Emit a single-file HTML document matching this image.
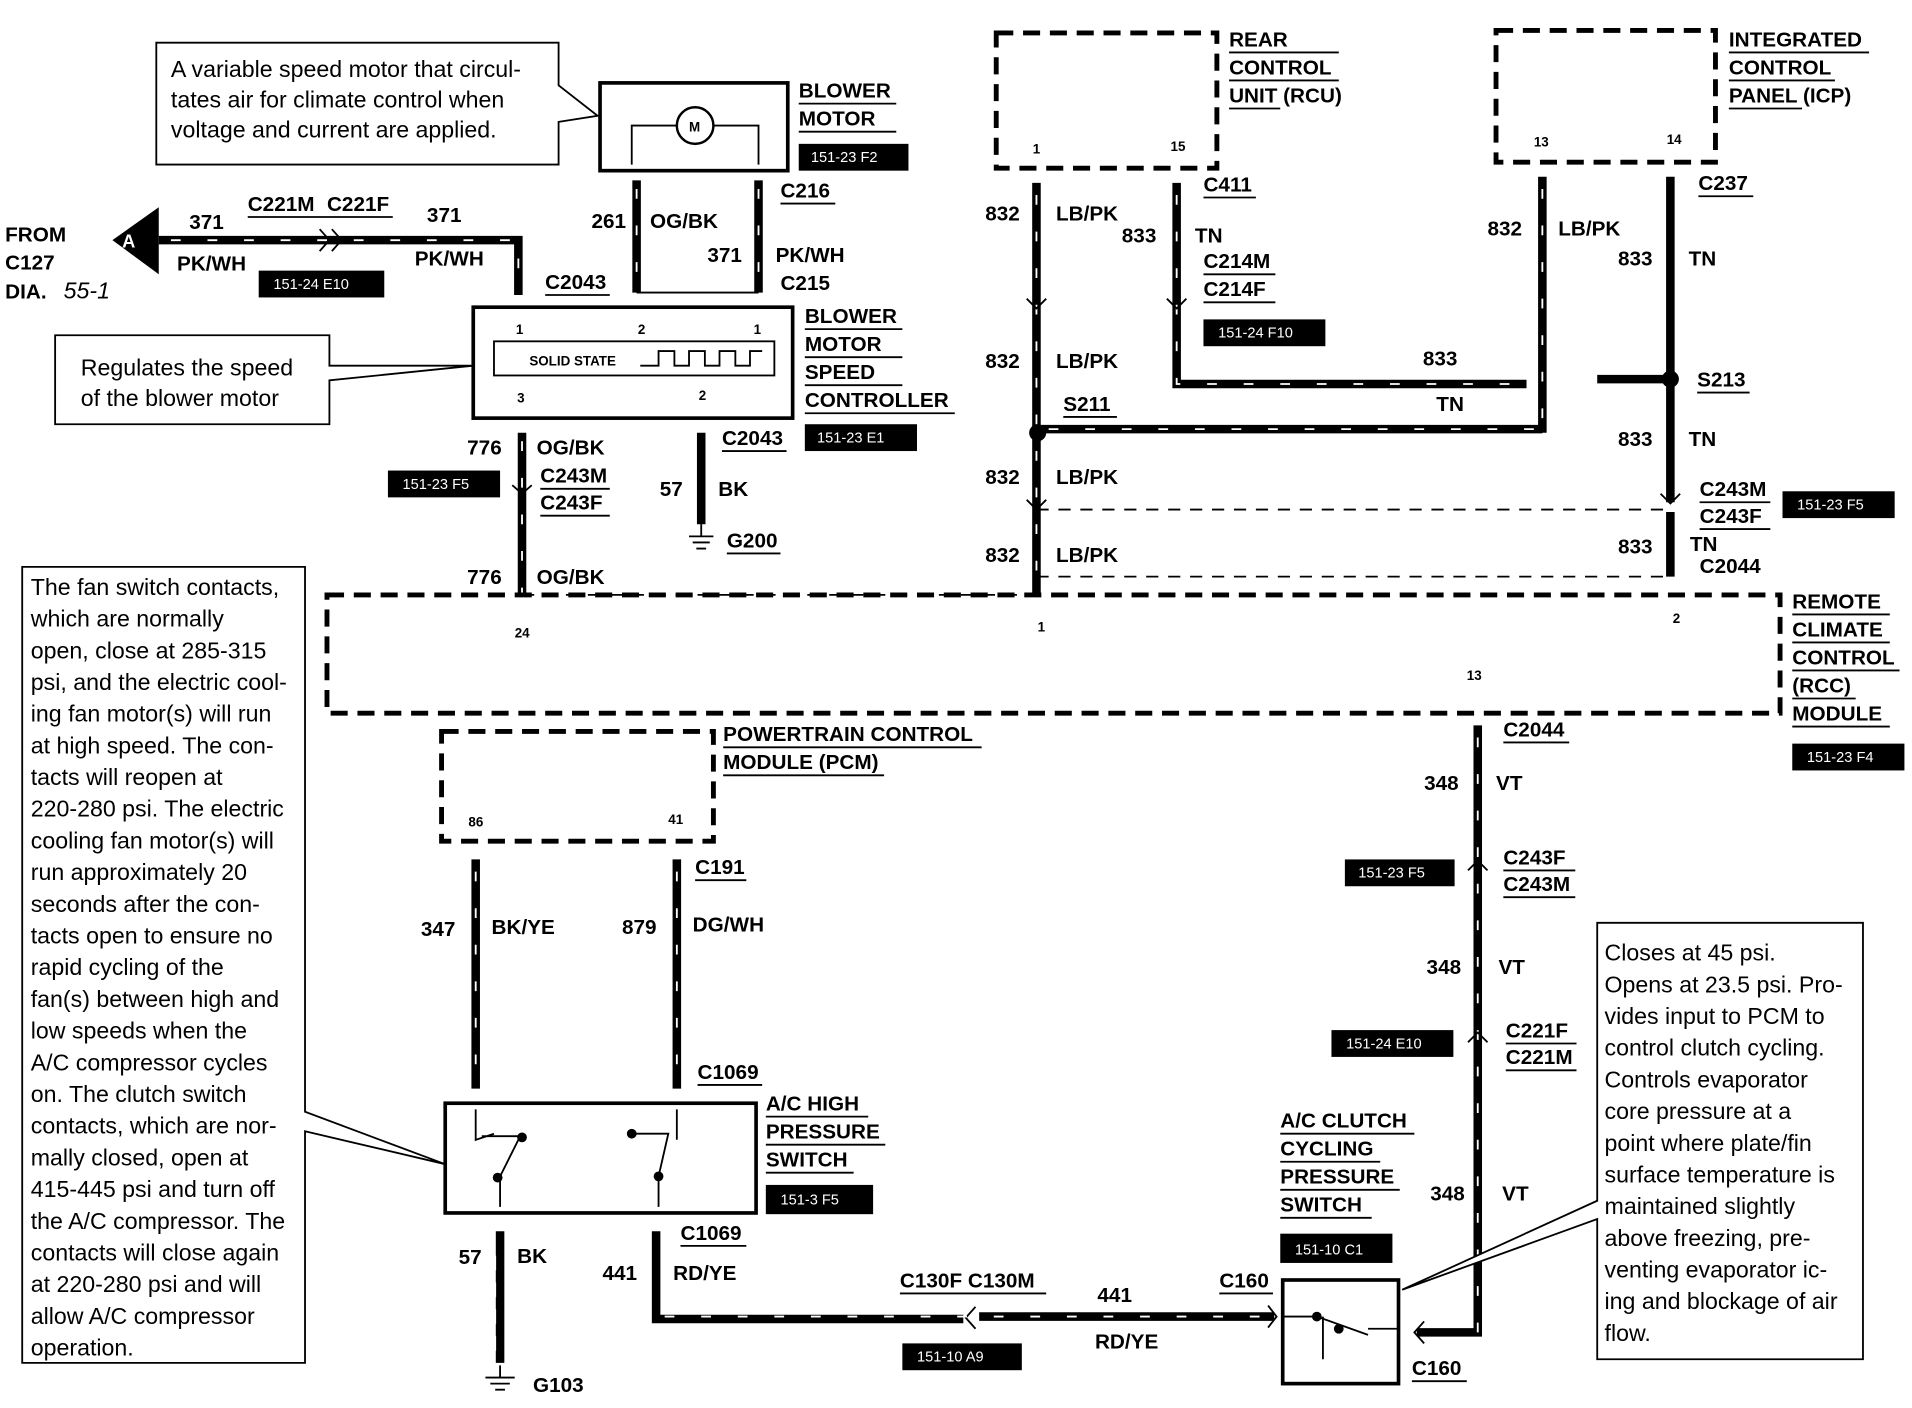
<!DOCTYPE html>
<html><head><meta charset="utf-8"><style>
html,body{margin:0;padding:0;background:#fff}
svg{display:block}
.l{font-family:"Liberation Sans",sans-serif;font-weight:bold;font-size:17px;fill:#000}
.n{font-family:"Liberation Sans",sans-serif;font-size:19px;fill:#000}
.s{font-family:"Liberation Sans",sans-serif;font-weight:bold;font-size:11px;fill:#000}
.b{font-family:"Liberation Sans",sans-serif;font-size:12px;fill:#fff}
.w{stroke:#000;stroke-width:7;fill:none}
.wd{stroke:#fff;stroke-width:1.5;stroke-dasharray:8 22;fill:none}
.t{stroke:#000;stroke-width:1.5;fill:none}
.dsh{stroke:#000;stroke-width:4;fill:none;stroke-dasharray:14 8}
.td{stroke:#000;stroke-width:1.5;fill:none;stroke-dasharray:10 8}
</style></head><body>
<svg width="1912" height="1408" viewBox="0 0 1568 1155" xmlns="http://www.w3.org/2000/svg">
<rect width="1568" height="1155" fill="#fff"/>
<!-- top callout -->
<path d="M128,35 H458 V70 L490,95 L458,100 V135 H128 Z" fill="#fff" stroke="#000" stroke-width="1.5"/>
<text class="n" x="140" y="63">A variable speed motor that circul-</text>
<text class="n" x="140" y="88">tates air for climate control when</text>
<text class="n" x="140" y="113">voltage and current are applied.</text>
<!-- blower motor -->
<rect x="492" y="68" width="154" height="72" fill="none" stroke="#000" stroke-width="3"/>
<circle cx="570" cy="103" r="15" fill="none" stroke="#000" stroke-width="2"/>
<text class="s" x="565" y="108">M</text>
<path class="t" d="M555,103 H518 V135 M585,103 H622 V135"/>
<text class="l" x="655" y="80">BLOWER</text><line class="t" x1="655" y1="85" x2="735" y2="85"/>
<text class="l" x="655" y="103">MOTOR</text><line class="t" x1="655" y1="108" x2="735" y2="108"/>
<rect x="655" y="118" width="90" height="22" fill="#000"/><text class="b" x="665" y="133">151-23 F2</text>
<!-- A connector -->
<path d="M92,197 L130,170 V225 Z" fill="#000"/><text x="100" y="203" font-family="Liberation Sans" font-weight="bold" font-size="15" fill="#fff">A</text>
<text class="l" x="4" y="198">FROM</text><text class="l" x="4" y="221">C127</text><text class="l" x="4" y="245">DIA.</text>
<text class="n" x="52" y="245" font-style="italic" font-size="15">55-1</text>
<path class="w" d="M130,197 H425 V242"/><path class="wd" d="M140,197 H425 V242"/>
<path class="t" d="M262,188 L270,197 L262,206 M272,188 L280,197 L272,206" stroke-width="3"/>
<text class="l" x="155" y="188">371</text><text class="l" x="145" y="222">PK/WH</text>
<text class="l" x="203" y="173">C221M</text><text class="l" x="268" y="173">C221F</text>
<line class="t" x1="203" y1="178" x2="322" y2="178"/>
<text class="l" x="350" y="182">371</text><text class="l" x="340" y="218">PK/WH</text>
<rect x="212" y="222" width="103" height="22" fill="#000"/><text class="b" x="224" y="237">151-24 E10</text>
<text class="l" x="447" y="237">C2043</text><line class="t" x1="447" y1="242" x2="500" y2="242"/>
<!-- 261 / 371 wires -->
<path class="w" d="M522,148 V240 M622,148 V240"/><path class="wd" d="M522,155 V240 M622,155 V240"/>
<path class="t" d="M522,240 H622"/>
<text class="l" x="485" y="187">261</text><text class="l" x="533" y="187">OG/BK</text>
<text class="l" x="580" y="215">371</text><text class="l" x="636" y="215">PK/WH</text>
<text class="l" x="640" y="162">C216</text><line class="t" x1="640" y1="167" x2="685" y2="167"/>
<text class="l" x="640" y="238">C215</text>
<!-- speed controller -->
<rect x="388" y="252" width="262" height="91" fill="none" stroke="#000" stroke-width="3"/>
<rect x="405" y="280" width="230" height="28" fill="none" stroke="#000" stroke-width="1.5"/>
<text class="s" x="434" y="300">SOLID STATE</text>
<path class="t" d="M525,300 H540 V288 H553 V300 H565 V288 H578 V300 H590 V288 H603 V300 H615 V288 H625" stroke-width="2"/>
<text class="s" x="423" y="274">1</text><text class="s" x="523" y="274">2</text><text class="s" x="618" y="274">1</text>
<text class="s" x="424" y="330">3</text><text class="s" x="573" y="328">2</text>
<text class="l" x="660" y="265">BLOWER</text><line class="t" x1="660" y1="270" x2="740" y2="270"/>
<text class="l" x="660" y="288">MOTOR</text><line class="t" x1="660" y1="293" x2="740" y2="293"/>
<text class="l" x="660" y="311">SPEED</text><line class="t" x1="660" y1="316" x2="740" y2="316"/>
<text class="l" x="660" y="334">CONTROLLER</text><line class="t" x1="660" y1="339" x2="783" y2="339"/>
<rect x="660" y="348" width="92" height="22" fill="#000"/><text class="b" x="670" y="363">151-23 E1</text>
<path d="M45,275 H270 V300 L388,300 L270,312 V348 H45 Z" fill="#fff" stroke="#000" stroke-width="1.5"/>
<text class="n" x="66" y="308">Regulates the speed</text><text class="n" x="66" y="333">of the blower motor</text>
<!-- 776 / 57 -->
<path class="w" d="M428,355 V488 M575,355 V430"/><path class="wd" d="M428,362 V488"/>
<path class="t" d="M420,398 L428,405 L436,398" stroke-width="3"/>
<text class="l" x="383" y="373">776</text><text class="l" x="440" y="373">OG/BK</text>
<text class="l" x="443" y="396">C243M</text><text class="l" x="443" y="418">C243F</text>
<line class="t" x1="443" y1="401" x2="500" y2="401"/><line class="t" x1="443" y1="423" x2="500" y2="423"/>
<rect x="318" y="386" width="92" height="22" fill="#000"/><text class="b" x="330" y="401">151-23 F5</text>
<text class="l" x="592" y="365">C2043</text><line class="t" x1="592" y1="370" x2="645" y2="370"/>
<text class="l" x="541" y="407">57</text><text class="l" x="589" y="407">BK</text>
<path class="t" d="M575,430 V440 M565,440 H585 M568,445 H582 M571,450 H579" stroke-width="2"/>
<text class="l" x="596" y="449">G200</text><line class="t" x1="596" y1="454" x2="640" y2="454"/>
<text class="l" x="383" y="479">776</text><text class="l" x="440" y="479">OG/BK</text>
<!-- RCU -->
<rect x="817" y="27" width="181" height="111" class="dsh"/>
<text class="s" x="847" y="126">1</text><text class="s" x="960" y="124">15</text>
<text class="l" x="1008" y="38">REAR</text><line class="t" x1="1008" y1="43" x2="1098" y2="43"/>
<text class="l" x="1008" y="61">CONTROL</text><line class="t" x1="1008" y1="66" x2="1098" y2="66"/>
<text class="l" x="1008" y="84">UNIT (RCU)</text><line class="t" x1="1008" y1="89" x2="1050" y2="89"/>
<path class="w" d="M850,150 V488 M965,150 V315 H1252"/><path class="wd" d="M850,160 V488 M965,160 V315 H1252"/>
<path class="t" d="M842,245 L850,253 L858,245 M957,245 L965,253 L973,245" stroke-width="3"/>
<text class="l" x="987" y="157">C411</text><line class="t" x1="987" y1="162" x2="1030" y2="162"/>
<text class="l" x="808" y="181">832</text><text class="l" x="866" y="181">LB/PK</text>
<text class="l" x="920" y="199">833</text><text class="l" x="980" y="199">TN</text>
<text class="l" x="987" y="220">C214M</text><text class="l" x="987" y="243">C214F</text>
<line class="t" x1="987" y1="225" x2="1046" y2="225"/><line class="t" x1="987" y1="248" x2="1046" y2="248"/>
<rect x="987" y="262" width="100" height="22" fill="#000"/><text class="b" x="999" y="277">151-24 F10</text>
<text class="l" x="808" y="302">832</text><text class="l" x="866" y="302">LB/PK</text>
<text class="l" x="1167" y="300">833</text><text class="l" x="1178" y="337">TN</text>
<text class="l" x="872" y="337">S211</text><line class="t" x1="872" y1="342" x2="916" y2="342"/>
<circle cx="851" cy="355" r="7" fill="#000"/>
<path class="w" d="M850,352 H1265"/><path class="wd" d="M860,352 H1265"/>
<text class="l" x="808" y="397">832</text><text class="l" x="866" y="397">LB/PK</text>
<path class="t" d="M842,410 L850,418 L858,410" stroke-width="3"/>
<path class="td" d="M850,418 H1370 M850,473 H1370 M428,488 H850"/>
<text class="l" x="808" y="461">832</text><text class="l" x="866" y="461">LB/PK</text>
<!-- ICP -->
<rect x="1227" y="25" width="180" height="108" class="dsh"/>
<text class="s" x="1258" y="120">13</text><text class="s" x="1367" y="118">14</text>
<text class="l" x="1418" y="38">INTEGRATED</text><line class="t" x1="1418" y1="43" x2="1533" y2="43"/>
<text class="l" x="1418" y="61">CONTROL</text><line class="t" x1="1418" y1="66" x2="1505" y2="66"/>
<text class="l" x="1418" y="84">PANEL (ICP)</text><line class="t" x1="1418" y1="89" x2="1478" y2="89"/>
<path class="w" d="M1265,145 V355 M1370,145 V412 M1310,311 H1370"/><path class="wd" d="M1265,155 V352"/>
<circle cx="1370" cy="311" r="7" fill="#000"/>
<path class="t" d="M1362,405 L1370,413 L1378,405" stroke-width="3"/>
<text class="l" x="1393" y="156">C237</text><line class="t" x1="1393" y1="161" x2="1438" y2="161"/>
<text class="l" x="1220" y="193">832</text><text class="l" x="1278" y="193">LB/PK</text>
<text class="l" x="1327" y="218">833</text><text class="l" x="1385" y="218">TN</text>
<text class="l" x="1392" y="317">S213</text><line class="t" x1="1392" y1="322" x2="1435" y2="322"/>
<text class="l" x="1327" y="366">833</text><text class="l" x="1385" y="366">TN</text>
<text class="l" x="1394" y="407">C243M</text><text class="l" x="1394" y="429">C243F</text>
<line class="t" x1="1394" y1="412" x2="1452" y2="412"/><line class="t" x1="1394" y1="434" x2="1452" y2="434"/>
<rect x="1462" y="403" width="92" height="22" fill="#000"/><text class="b" x="1474" y="418">151-23 F5</text>
<text class="l" x="1327" y="454">833</text><text class="l" x="1386" y="452">TN</text>
<text class="l" x="1394" y="470">C2044</text>
<path class="w" d="M1370,420 V473"/>
<!-- RCC -->
<rect x="268" y="488" width="1192" height="97" class="dsh"/>
<text class="s" x="422" y="523">24</text><text class="s" x="851" y="518">1</text><text class="s" x="1372" y="511">2</text><text class="s" x="1203" y="558">13</text>
<text class="l" x="1470" y="499">REMOTE</text><line class="t" x1="1470" y1="504" x2="1550" y2="504"/>
<text class="l" x="1470" y="522">CLIMATE</text><line class="t" x1="1470" y1="527" x2="1550" y2="527"/>
<text class="l" x="1470" y="545">CONTROL</text><line class="t" x1="1470" y1="550" x2="1558" y2="550"/>
<text class="l" x="1470" y="568">(RCC)</text><line class="t" x1="1470" y1="573" x2="1522" y2="573"/>
<text class="l" x="1470" y="591">MODULE</text><line class="t" x1="1470" y1="596" x2="1550" y2="596"/>
<rect x="1470" y="610" width="92" height="22" fill="#000"/><text class="b" x="1482" y="625">151-23 F4</text>
<!-- PCM -->
<rect x="362" y="600" width="223" height="90" class="dsh"/>
<text class="s" x="384" y="678">86</text><text class="s" x="548" y="676">41</text>
<text class="l" x="593" y="608">POWERTRAIN CONTROL</text><line class="t" x1="593" y1="613" x2="805" y2="613"/>
<text class="l" x="593" y="631">MODULE (PCM)</text><line class="t" x1="593" y1="636" x2="725" y2="636"/>
<path class="w" d="M390,705 V893 M555,705 V893"/><path class="wd" d="M390,715 V893 M555,715 V893"/>
<text class="l" x="570" y="717">C191</text><line class="t" x1="570" y1="722" x2="612" y2="722"/>
<text class="l" x="345" y="768">347</text><text class="l" x="403" y="766">BK/YE</text>
<text class="l" x="510" y="766">879</text><text class="l" x="568" y="764">DG/WH</text>
<text class="l" x="572" y="885">C1069</text><line class="t" x1="572" y1="890" x2="625" y2="890"/>
<!-- AC high pressure -->
<rect x="365" y="905" width="255" height="90" fill="none" stroke="#000" stroke-width="3"/>
<path class="t" d="M390,910 V935 L405,930 M425,935 L410,965 M410,965 V990 M395,932 L425,932 M555,910 V935 M520,930 H548 L540,965 V990" stroke-width="2"/>
<circle cx="428" cy="933" r="4" fill="#000"/><circle cx="408" cy="966" r="4" fill="#000"/>
<circle cx="518" cy="930" r="4" fill="#000"/><circle cx="540" cy="965" r="4" fill="#000"/>
<text class="l" x="628" y="911">A/C HIGH</text><line class="t" x1="628" y1="916" x2="712" y2="916"/>
<text class="l" x="628" y="934">PRESSURE</text><line class="t" x1="628" y1="939" x2="726" y2="939"/>
<text class="l" x="628" y="957">SWITCH</text><line class="t" x1="628" y1="962" x2="700" y2="962"/>
<rect x="628" y="972" width="88" height="24" fill="#000"/><text class="b" x="640" y="988">151-3 F5</text>
<!-- 57 / 441 -->
<path class="w" d="M410,1010 V1118 M538,1010 V1082 H790"/>
<path d="M406,1030 V1110" stroke="#fff" stroke-width="1.5" stroke-dasharray="12 10"/>
<path class="t" d="M410,1120 V1130 M398,1130 H422 M402,1135 H418 M406,1140 H414" stroke-width="2"/>
<text class="l" x="376" y="1037">57</text><text class="l" x="424" y="1036">BK</text>
<text class="l" x="437" y="1142">G103</text>
<text class="l" x="558" y="1017">C1069</text><line class="t" x1="558" y1="1022" x2="612" y2="1022"/>
<text class="l" x="494" y="1050">441</text><text class="l" x="552" y="1050">RD/YE</text>
<path class="t" d="M800,1072 L792,1081 L800,1090" stroke-width="3"/>
<path class="w" d="M803,1080 H1045"/><path class="wd" d="M545,1080 H1045"/>
<path class="t" d="M1040,1071 L1047,1080 L1040,1089" stroke-width="3"/>
<text class="l" x="738" y="1056">C130F C130M</text><line class="t" x1="738" y1="1061" x2="858" y2="1061"/>
<rect x="740" y="1102" width="98" height="22" fill="#000"/><text class="b" x="752" y="1117">151-10 A9</text>
<text class="l" x="900" y="1068">441</text><text class="l" x="898" y="1106">RD/YE</text>
<text class="l" x="1000" y="1056">C160</text><line class="t" x1="1000" y1="1061" x2="1044" y2="1061"/>
<!-- clutch switch -->
<rect x="1052" y="1050" width="95" height="85" fill="none" stroke="#000" stroke-width="3"/>
<path class="t" d="M1052,1080 H1080 L1122,1095 M1122,1090 H1147 M1085,1080 V1115" stroke-width="2"/>
<circle cx="1080" cy="1080" r="4" fill="#000"/><circle cx="1098" cy="1090" r="4" fill="#000"/>
<text class="l" x="1050" y="925">A/C CLUTCH</text><line class="t" x1="1050" y1="930" x2="1160" y2="930"/>
<text class="l" x="1050" y="948">CYCLING</text><line class="t" x1="1050" y1="953" x2="1132" y2="953"/>
<text class="l" x="1050" y="971">PRESSURE</text><line class="t" x1="1050" y1="976" x2="1148" y2="976"/>
<text class="l" x="1050" y="994">SWITCH</text><line class="t" x1="1050" y1="999" x2="1125" y2="999"/>
<rect x="1050" y="1012" width="92" height="24" fill="#000"/><text class="b" x="1062" y="1029">151-10 C1</text>
<!-- 348 -->
<path class="w" d="M1212,595 V1093 H1162"/><path class="wd" d="M1212,605 V1093"/>
<path class="t" d="M1168,1084 L1160,1093 L1168,1102" stroke-width="3"/>
<path class="t" d="M1204,714 L1212,706 L1220,714 M1204,855 L1212,847 L1220,855" stroke-width="3"/>
<text class="l" x="1233" y="604">C2044</text><line class="t" x1="1233" y1="609" x2="1287" y2="609"/>
<text class="l" x="1168" y="648">348</text><text class="l" x="1227" y="648">VT</text>
<text class="l" x="1233" y="709">C243F</text><text class="l" x="1233" y="731">C243M</text>
<line class="t" x1="1233" y1="714" x2="1292" y2="714"/><line class="t" x1="1233" y1="736" x2="1292" y2="736"/>
<rect x="1103" y="705" width="90" height="22" fill="#000"/><text class="b" x="1114" y="720">151-23 F5</text>
<text class="l" x="1170" y="799">348</text><text class="l" x="1229" y="799">VT</text>
<text class="l" x="1235" y="851">C221F</text><text class="l" x="1235" y="873">C221M</text>
<line class="t" x1="1235" y1="856" x2="1293" y2="856"/><line class="t" x1="1235" y1="878" x2="1293" y2="878"/>
<rect x="1092" y="845" width="100" height="22" fill="#000"/><text class="b" x="1104" y="860">151-24 E10</text>
<text class="l" x="1173" y="985">348</text><text class="l" x="1232" y="985">VT</text>
<text class="l" x="1158" y="1128">C160</text><line class="t" x1="1158" y1="1133" x2="1203" y2="1133"/>
<!-- left callout -->
<path d="M18,465 H250 V912 L365,955 L250,928 V1118 H18 Z" fill="#fff" stroke="#000" stroke-width="1.5"/>
<g class="n">
<text x="25" y="488">The fan switch contacts,</text>
<text x="25" y="514">which are normally</text>
<text x="25" y="540">open, close at 285-315</text>
<text x="25" y="566">psi, and the electric cool-</text>
<text x="25" y="592">ing fan motor(s) will run</text>
<text x="25" y="618">at high speed. The con-</text>
<text x="25" y="644">tacts will reopen at</text>
<text x="25" y="670">220-280 psi. The electric</text>
<text x="25" y="696">cooling fan motor(s) will</text>
<text x="25" y="722">run approximately 20</text>
<text x="25" y="748">seconds after the con-</text>
<text x="25" y="774">tacts open to ensure no</text>
<text x="25" y="800">rapid cycling of the</text>
<text x="25" y="826">fan(s) between high and</text>
<text x="25" y="852">low speeds when the</text>
<text x="25" y="878">A/C compressor cycles</text>
<text x="25" y="904">on. The clutch switch</text>
<text x="25" y="930">contacts, which are nor-</text>
<text x="25" y="956">mally closed, open at</text>
<text x="25" y="982">415-445 psi and turn off</text>
<text x="25" y="1008">the A/C compressor. The</text>
<text x="25" y="1034">contacts will close again</text>
<text x="25" y="1060">at 220-280 psi and will</text>
<text x="25" y="1086">allow A/C compressor</text>
<text x="25" y="1112">operation.</text>
</g>
<!-- right callout -->
<path d="M1310,757 H1528 V1115 H1310 V1000 L1150,1058 L1310,985 Z" fill="#fff" stroke="#000" stroke-width="1.5"/>
<g class="n">
<text x="1316" y="788">Closes at 45 psi.</text>
<text x="1316" y="814">Opens at 23.5 psi. Pro-</text>
<text x="1316" y="840">vides input to PCM to</text>
<text x="1316" y="866">control clutch cycling.</text>
<text x="1316" y="892">Controls evaporator</text>
<text x="1316" y="918">core pressure at a</text>
<text x="1316" y="944">point where plate/fin</text>
<text x="1316" y="970">surface temperature is</text>
<text x="1316" y="996">maintained slightly</text>
<text x="1316" y="1022">above freezing, pre-</text>
<text x="1316" y="1048">venting evaporator ic-</text>
<text x="1316" y="1074">ing and blockage of air</text>
<text x="1316" y="1100">flow.</text>
</g>
</svg>
</body></html>
